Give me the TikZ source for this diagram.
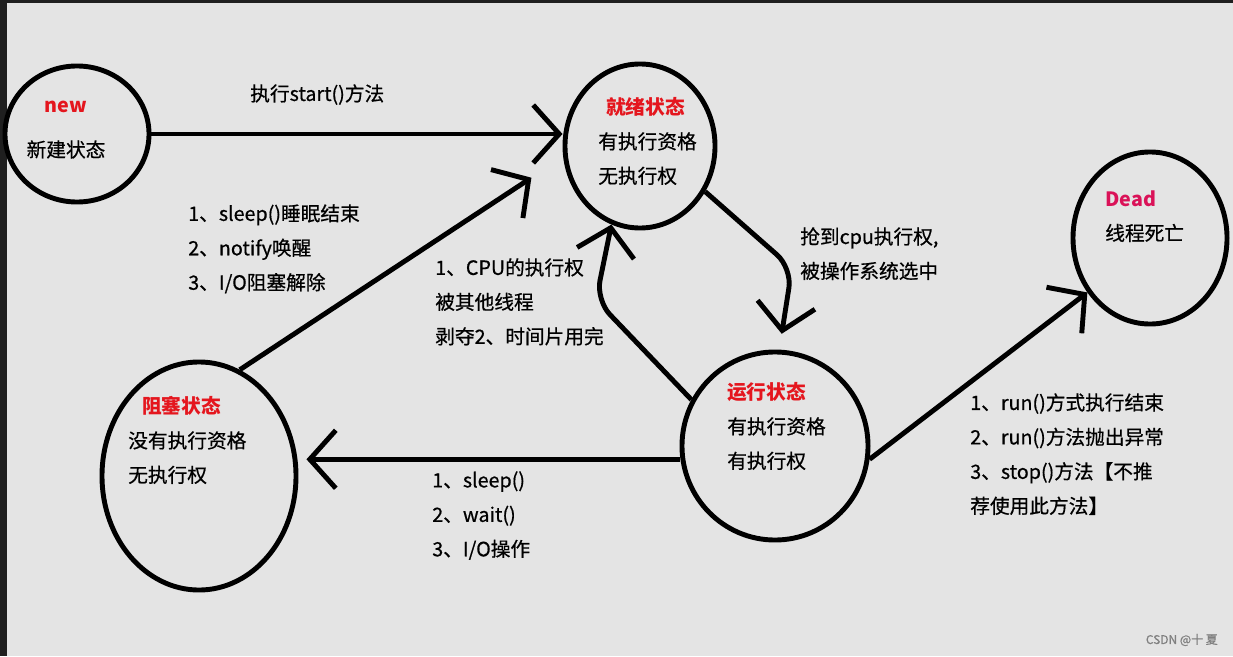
\documentclass[tikz,border=0pt]{standalone}
\usepackage{fontspec}
\setmainfont{Noto Sans CJK SC}[UprightFeatures={FakeBold=0.6}]
\usetikzlibrary{shapes.geometric,arrows.meta}
\definecolor{bggray}{RGB}{228,228,228}
\definecolor{titlered}{RGB}{228,22,30}
\definecolor{deadred}{RGB}{218,18,88}
\newcommand{\lbfont}{\fontsize{14}{24.5}\selectfont}
\tikzset{
  state/.style={draw, ellipse, line width=3.5pt, inner sep=0pt},
  arr/.style={line width=3.5pt, -{Straight Barb[length=0.65cm,width=1.45cm]}},
  lbl/.style={align=left, anchor=north west, inner sep=0pt, font=\lbfont},
  title/.style={text=titlered, font=\bfseries}
}

\begin{document}
\begin{tikzpicture}[x=0.025cm,y=-0.025cm]
                \useasboundingbox (0,0) rectangle (1233,656);
                \fill[bggray] (0,0) rectangle (1233,656);
                \fill[black!88] (0,0) rectangle (7,656);
                \fill[black!88] (0,0) rectangle (1233,3);

                % states
                \node[state, minimum width=3.6cm, minimum height=3.4cm] (new) at (77,134) {};
                \node[state, minimum width=3.75cm, minimum height=4.1cm] (ready) at (640,146) {};
                \node[state, minimum width=4.65cm, minimum height=4.7cm] (running) at (775,446) {};
                \node[state, minimum width=4.85cm, minimum height=5.7cm] (blocked) at (199,476) {};
                \node[state, minimum width=3.85cm, minimum height=4.3cm] (dead) at (1150,238) {};

                \node[align=center, inner sep=0pt, font=\lbfont] (newtxt) at (66,130) {\textcolor{titlered}{\bfseries new}\\[0.24cm]新建状态};
                \node[lbl] (readytxt) at (598,97) {\hspace*{0.2cm}\textcolor{titlered}{\bfseries 就绪状态}\\有执行资格\\无执行权};
                \node[lbl] (runningtxt) at (727,382) {\textcolor{titlered}{\bfseries 运行状态}\\有执行资格\\有执行权};
                \node[lbl] (blockedtxt) at (128,396) {\hspace*{0.35cm}\textcolor{titlered}{\bfseries 阻塞状态}\\没有执行资格\\无执行权};
                \node[lbl] (deadtxt) at (1105,190) {\textcolor{deadred}{\bfseries Dead}\\线程死亡};

                % transitions
                \coordinate (bendA) at (596,300);
                \coordinate (bendB) at (792,268);
                \draw[arr] (new.east) -- (ready.west |- new.east);
                \draw[arr, shorten >=0.95cm] (blocked.69) -- (ready.188);
                \draw[arr, rounded corners=0.5cm] (ready.325) -- (bendB) -- ([yshift=0.4cm]running.86);
                \draw[arr, rounded corners=0.5cm] (running.151) -- (bendA) -- (ready.250);
                \draw[arr, shorten >=0.2cm] (running.188) -- (blocked.east |- running.188);
                \draw[arr] (running.-8) -- (dead.221);

                % labels
                \node[lbl] (startlbl) at (250,84) {执行start()方法};
                \node[lbl] (wakelbl) at (188,204) {1、sleep()睡眠结束\\2、notify唤醒\\3、I/O阻塞解除};
                \node[lbl] (yieldlbl) at (435,258) {1、CPU的执行权\\被其他线程\\剥夺2、时间片用完};
                \node[lbl] (pickedlbl) at (800,227) {抢到cpu执行权,\\被操作系统选中};
                \node[lbl] (sleeplbl) at (432,471) {1、sleep()\\2、wait()\\3、I/O操作};
                \node[lbl] (endlbl) at (970,393) {1、run()方式执行结束\\2、run()方法抛出异常\\3、stop()方法【不推\\荐使用此方法】};
                \node[anchor=east, inner sep=0pt, text=black!50, font=\fontsize{8.5}{10}\selectfont] (mark) at (1218,640) {CSDN @十 夏};
            \end{tikzpicture}
\end{document}
